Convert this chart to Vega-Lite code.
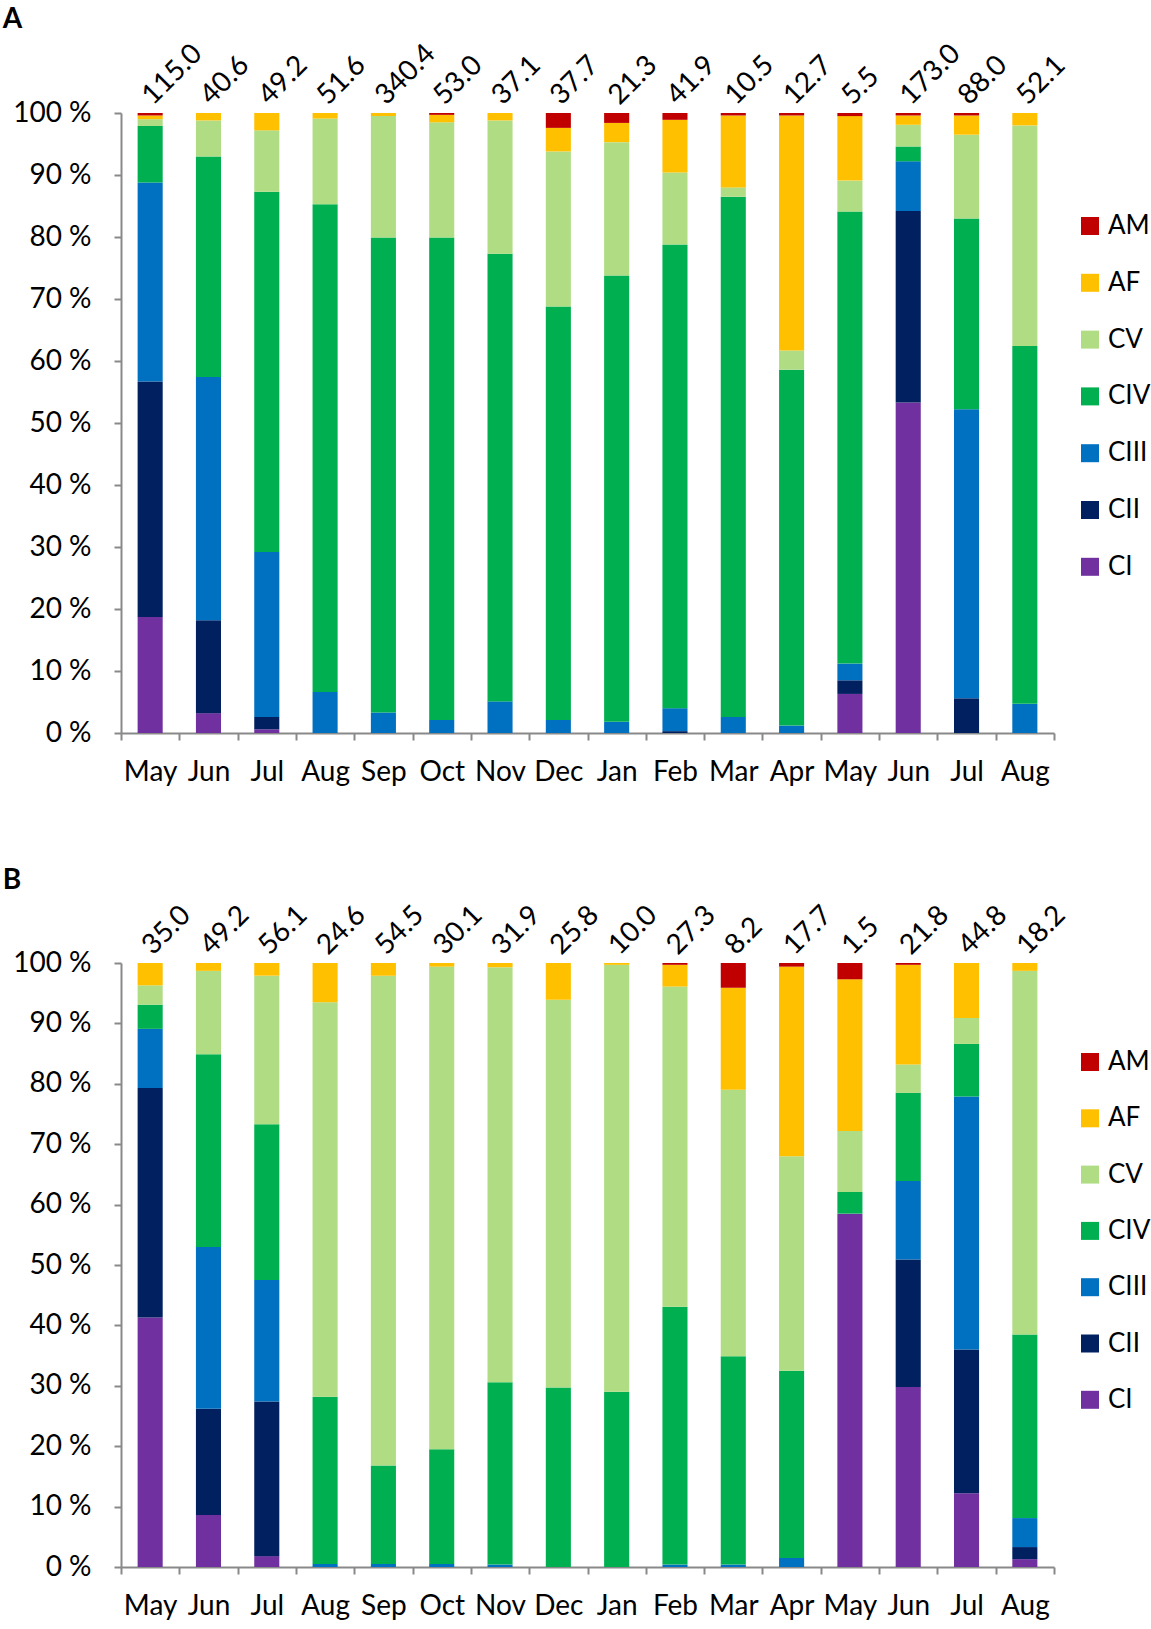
{
  "$schema": "https://vega.github.io/schema/vega-lite/v6.json",
  "description": "Stacked composition bars, panels A and B",
  "padding": {"left": 2, "top": 5, "right": 0, "bottom": 0},
  "background": "white",
  "datasets": {
    "comps": [
      {"comp": "CI", "rank": 1},
      {"comp": "CII", "rank": 2},
      {"comp": "CIII", "rank": 3},
      {"comp": "CIV", "rank": 4},
      {"comp": "CV", "rank": 5},
      {"comp": "AF", "rank": 6},
      {"comp": "AM", "rank": 7}
    ],
    "bars": [
      {"panel": "A", "month": "May_1", "tot": 115.0, "CI": 18.7, "CII": 38.0, "CIII": 32.1, "CIV": 9.1, "CV": 1.1, "AF": 0.6, "AM": 0.4},
      {"panel": "A", "month": "Jun_1", "tot": 40.6, "CI": 3.2, "CII": 15.0, "CIII": 39.2, "CIV": 35.6, "CV": 5.8, "AF": 1.2},
      {"panel": "A", "month": "Jul_1", "tot": 49.2, "CI": 0.6, "CII": 2.0, "CIII": 26.6, "CIV": 58.1, "CV": 9.9, "AF": 2.8},
      {"panel": "A", "month": "Aug_1", "tot": 51.6, "CIII": 6.6, "CIV": 78.7, "CV": 13.8, "AF": 0.9},
      {"panel": "A", "month": "Sep_1", "tot": 340.4, "CIII": 3.3, "CIV": 76.6, "CV": 19.6, "AF": 0.5},
      {"panel": "A", "month": "Oct_1", "tot": 53.0, "CIII": 2.1, "CIV": 77.8, "CV": 18.6, "AF": 1.2, "AM": 0.3},
      {"panel": "A", "month": "Nov_1", "tot": 37.1, "CIII": 5.1, "CIV": 72.2, "CV": 21.5, "AF": 1.2},
      {"panel": "A", "month": "Dec_1", "tot": 37.7, "CIII": 2.1, "CIV": 66.7, "CV": 25.0, "AF": 3.8, "AM": 2.4},
      {"panel": "A", "month": "Jan_1", "tot": 21.3, "CIII": 1.8, "CIV": 72.0, "CV": 21.5, "AF": 3.1, "AM": 1.6},
      {"panel": "A", "month": "Feb_1", "tot": 41.9, "CII": 0.3, "CIII": 3.7, "CIV": 74.8, "CV": 11.6, "AF": 8.5, "AM": 1.1},
      {"panel": "A", "month": "Mar_1", "tot": 10.5, "CIII": 2.6, "CIV": 83.9, "CV": 1.5, "AF": 11.6, "AM": 0.4},
      {"panel": "A", "month": "Apr_1", "tot": 12.7, "CIII": 1.2, "CIV": 57.4, "CV": 3.1, "AF": 37.9, "AM": 0.4},
      {"panel": "A", "month": "May_2", "tot": 5.5, "CI": 6.3, "CII": 2.2, "CIII": 2.7, "CIV": 72.9, "CV": 5.0, "AF": 10.4, "AM": 0.5},
      {"panel": "A", "month": "Jun_2", "tot": 173.0, "CI": 53.3, "CII": 30.9, "CIII": 8.0, "CIV": 2.4, "CV": 3.5, "AF": 1.5, "AM": 0.4},
      {"panel": "A", "month": "Jul_2", "tot": 88.0, "CII": 5.6, "CIII": 46.6, "CIV": 30.8, "CV": 13.5, "AF": 3.1, "AM": 0.4},
      {"panel": "A", "month": "Aug_2", "tot": 52.1, "CIII": 4.7, "CIV": 57.7, "CV": 35.6, "AF": 2.0},
      {"panel": "B", "month": "May_1", "tot": 35.0, "CI": 41.3, "CII": 38.0, "CIII": 9.8, "CIV": 4.0, "CV": 3.2, "AF": 3.7},
      {"panel": "B", "month": "Jun_1", "tot": 49.2, "CI": 8.6, "CII": 17.6, "CIII": 26.8, "CIV": 31.9, "CV": 13.8, "AF": 1.3},
      {"panel": "B", "month": "Jul_1", "tot": 56.1, "CI": 1.8, "CII": 25.6, "CIII": 20.1, "CIV": 25.8, "CV": 24.6, "AF": 2.1},
      {"panel": "B", "month": "Aug_1", "tot": 24.6, "CIII": 0.5, "CIV": 27.7, "CV": 65.3, "AF": 6.5},
      {"panel": "B", "month": "Sep_1", "tot": 54.5, "CIII": 0.5, "CIV": 16.3, "CV": 81.1, "AF": 2.1},
      {"panel": "B", "month": "Oct_1", "tot": 30.1, "CIII": 0.5, "CIV": 19.0, "CV": 79.9, "AF": 0.6},
      {"panel": "B", "month": "Nov_1", "tot": 31.9, "CIII": 0.4, "CIV": 30.2, "CV": 68.7, "AF": 0.7},
      {"panel": "B", "month": "Dec_1", "tot": 25.8, "CIV": 29.7, "CV": 64.2, "AF": 6.1},
      {"panel": "B", "month": "Jan_1", "tot": 10.0, "CIV": 29.0, "CV": 70.7, "AF": 0.3},
      {"panel": "B", "month": "Feb_1", "tot": 27.3, "CIII": 0.4, "CIV": 42.7, "CV": 53.0, "AF": 3.6, "AM": 0.3},
      {"panel": "B", "month": "Mar_1", "tot": 8.2, "CIII": 0.4, "CIV": 34.5, "CV": 44.1, "AF": 16.9, "AM": 4.1},
      {"panel": "B", "month": "Apr_1", "tot": 17.7, "CIII": 1.5, "CIV": 31.0, "CV": 35.5, "AF": 31.4, "AM": 0.6},
      {"panel": "B", "month": "May_2", "tot": 1.5, "CI": 58.5, "CIV": 3.6, "CV": 10.1, "AF": 25.1, "AM": 2.7},
      {"panel": "B", "month": "Jun_2", "tot": 21.8, "CI": 29.8, "CII": 21.1, "CIII": 13.0, "CIV": 14.6, "CV": 4.7, "AF": 16.5, "AM": 0.3},
      {"panel": "B", "month": "Jul_2", "tot": 44.8, "CI": 12.2, "CII": 23.8, "CIII": 41.9, "CIV": 8.7, "CV": 4.3, "AF": 9.1},
      {"panel": "B", "month": "Aug_2", "tot": 18.2, "CI": 1.3, "CII": 2.0, "CIII": 4.8, "CIV": 30.4, "CV": 60.2, "AF": 1.3}
    ]
  },
  "spacing": 81,
  "vconcat": [
    {
      "title": {"text": "A"},
      "width": 933,
      "height": 620,
      "data": {"name": "bars"},
      "transform": [{"filter": "datum.panel === 'A'"}],
      "encoding": {
        "x": {"field": "month", "type": "nominal", "sort": null, "scale": {"paddingInner": 0, "paddingOuter": 0}}
      },
      "layer": [
        {
          "transform": [
            {"fold": ["CI", "CII", "CIII", "CIV", "CV", "AF", "AM"], "as": ["comp", "pct"]},
            {"filter": "datum.pct > 0"},
            {"lookup": "comp", "from": {"data": {"name": "comps"}, "key": "comp", "fields": ["rank"]}}
          ],
          "mark": {"type": "bar", "width": {"band": 0.43}},
          "encoding": {
            "y": {
              "field": "pct", "type": "quantitative", "stack": "zero", "scale": {"domain": [0, 100]},
              "axis": {"values": [0, 10, 20, 30, 40, 50, 60, 70, 80, 90, 100], "labelExpr": "datum.value + ' %'"}
            },
            "color": {
              "field": "comp", "type": "nominal",
              "scale": {"domain": ["AM", "AF", "CV", "CIV", "CIII", "CII", "CI"], "range": ["#C00000", "#FFC000", "#B0DD84", "#00B050", "#0070C0", "#002060", "#7030A0"]},
              "legend": {"orient": "none", "legendX": 956, "legendY": 100, "rowPadding": 30.8}
            },
            "order": {"field": "rank", "type": "quantitative", "sort": "ascending"}
          }
        },
        {
          "mark": {"type": "text", "angle": 315, "align": "left", "baseline": "middle", "dx": 7, "dy": -11, "fontSize": 28, "color": "#000000"},
          "encoding": {
            "y": {"datum": 100},
            "text": {"field": "tot", "type": "quantitative", "format": ".1f"}
          }
        }
      ]
    },
    {
      "title": {"text": "B"},
      "width": 933,
      "height": 604,
      "data": {"name": "bars"},
      "transform": [{"filter": "datum.panel === 'B'"}],
      "encoding": {
        "x": {"field": "month", "type": "nominal", "sort": null, "scale": {"paddingInner": 0, "paddingOuter": 0}}
      },
      "layer": [
        {
          "transform": [
            {"fold": ["CI", "CII", "CIII", "CIV", "CV", "AF", "AM"], "as": ["comp", "pct"]},
            {"filter": "datum.pct > 0"},
            {"lookup": "comp", "from": {"data": {"name": "comps"}, "key": "comp", "fields": ["rank"]}}
          ],
          "mark": {"type": "bar", "width": {"band": 0.43}},
          "encoding": {
            "y": {
              "field": "pct", "type": "quantitative", "stack": "zero", "scale": {"domain": [0, 100]},
              "axis": {"values": [0, 10, 20, 30, 40, 50, 60, 70, 80, 90, 100], "labelExpr": "datum.value + ' %'"}
            },
            "color": {
              "field": "comp", "type": "nominal",
              "scale": {"domain": ["AM", "AF", "CV", "CIV", "CIII", "CII", "CI"], "range": ["#C00000", "#FFC000", "#B0DD84", "#00B050", "#0070C0", "#002060", "#7030A0"]},
              "legend": {"orient": "none", "legendX": 956, "legendY": 86, "rowPadding": 30.3}
            },
            "order": {"field": "rank", "type": "quantitative", "sort": "ascending"}
          }
        },
        {
          "mark": {"type": "text", "angle": 315, "align": "left", "baseline": "middle", "dx": 7, "dy": -11, "fontSize": 28, "color": "#000000"},
          "encoding": {
            "y": {"datum": 100},
            "text": {"field": "tot", "type": "quantitative", "format": ".1f"}
          }
        }
      ]
    }
  ],
  "resolve": {"legend": {"color": "independent"}},
  "config": {
    "font": "Lato",
    "view": {"stroke": null},
    "title": {"anchor": "start", "frame": "bounds", "fontSize": 28, "fontWeight": "bold", "color": "#000000", "dx": -10, "offset": 6},
    "axis": {
      "title": null,
      "grid": false,
      "domainColor": "#898989",
      "domainWidth": 2,
      "tickColor": "#898989",
      "tickWidth": 2,
      "tickSize": 7,
      "labelColor": "#000000",
      "labelFontSize": 28
    },
    "axisX": {
      "labelAngle": 0,
      "tickBand": "extent",
      "labelPadding": 18,
      "labelExpr": "isValid(datum.value) ? substring(datum.value, 0, 3) : ''"
    },
    "axisY": {
      "labelPadding": 23
    },
    "legend": {
      "title": null,
      "padding": 0,
      "symbolType": "square",
      "symbolSize": 324,
      "symbolStrokeWidth": 0,
      "labelFontSize": 26,
      "labelColor": "#000000",
      "labelOffset": 5
    }
  }
}
